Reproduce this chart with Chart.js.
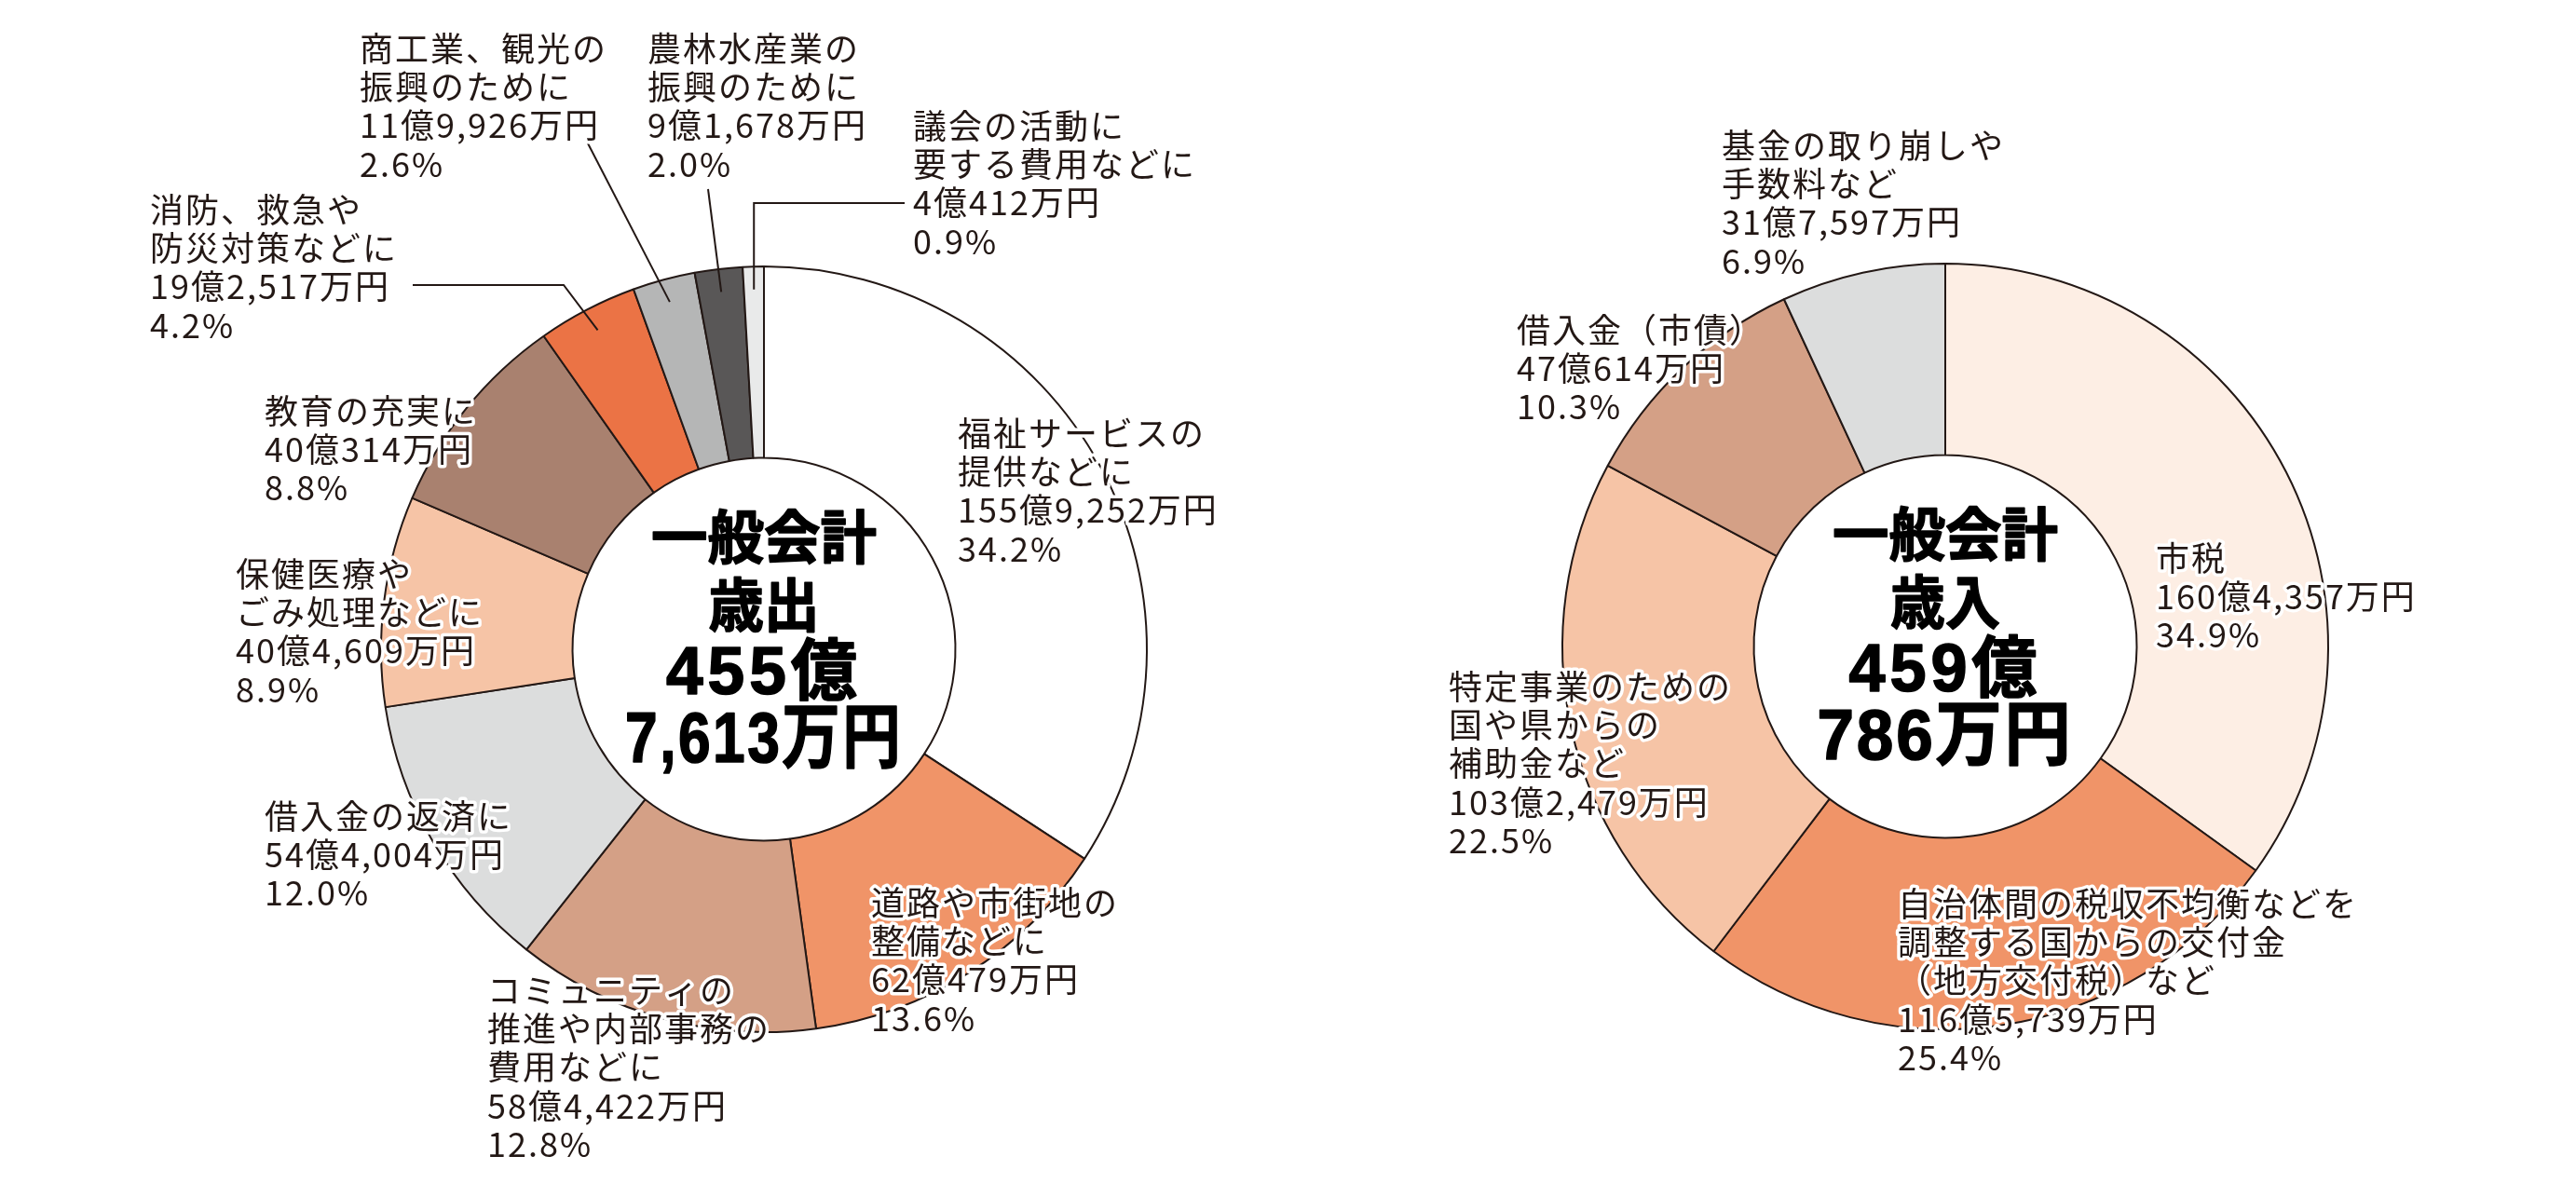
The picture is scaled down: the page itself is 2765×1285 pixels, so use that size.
<!DOCTYPE html>
<html lang="ja">
<head>
<meta charset="utf-8">
<title>一般会計 歳出・歳入</title>
<script src="https://cdn.jsdelivr.net/npm/chart.js@4.4.1/dist/chart.umd.min.js"></script>
<style>
  html, body { margin: 0; padding: 0; background: #ffffff; }
  #wrap { position: relative; width: 2765px; height: 1285px; overflow: hidden; }
  #wrap canvas { position: absolute; left: 0; top: 0; }
</style>
</head>
<body>
<div id="wrap">
  <canvas id="outChart" width="2765" height="1285"></canvas>
  <canvas id="inChart" width="2765" height="1285"></canvas>
</div>
<script>
// ---- 歳出 (expenditure), amounts in 万円, clockwise from 12 o'clock ----
const outNames = [
  ['福祉サービスの', '提供などに'],
  ['道路や市街地の', '整備などに'],
  ['コミュニティの', '推進や内部事務の', '費用などに'],
  ['借入金の返済に'],
  ['保健医療や', 'ごみ処理などに'],
  ['教育の充実に'],
  ['消防、救急や', '防災対策などに'],
  ['商工業、観光の', '振興のために'],
  ['農林水産業の', '振興のために'],
  ['議会の活動に', '要する費用などに']
];
const outValues = [1559252, 620479, 584422, 544004, 404609, 400314, 192517, 119926, 91678, 40412];
const outPct = ['34.2%', '13.6%', '12.8%', '12.0%', '8.9%', '8.8%', '4.2%', '2.6%', '2.0%', '0.9%'];
const outTitle = ['一般会計', '歳出', '455億', '7,613万円'];

// ---- 歳入 (revenue) ----
const inNames = [
  ['市税'],
  ['自治体間の税収不均衡などを', '調整する国からの交付金', '（地方交付税）など'],
  ['特定事業のための', '国や県からの', '補助金など'],
  ['借入金（市債）'],
  ['基金の取り崩しや', '手数料など']
];
const inValues = [1604357, 1165739, 1032479, 470614, 317597];
const inPct = ['34.9%', '25.4%', '22.5%', '10.3%', '6.9%'];
const inTitle = ['一般会計', '歳入', '459億', '786万円'];

const INK = '#231815';
const outColors = ['#ffffff', '#f09468', '#d4a086', '#dcdddd', '#f6c4a6', '#a9816f', '#eb7345', '#b5b6b6', '#595757', '#e9eaea'];
const inColors = ['#fdeee4', '#f09468', '#f6c4a6', '#d4a086', '#dcdddd'];

// 万円 -> "155億9,252万円"
function fmtYen(v) {
  const oku = Math.floor(v / 10000);
  const man = v % 10000;
  return oku + '億' + man.toLocaleString('en-US') + '万円';
}

// label blocks: left edge / first line centre, relative to the ring centre
const outLabelPos = [[208, -232], [115, 272], [-297, 366], [-536, 179], [-567, -81], [-536, -256], [-659, -472], [-434, -645], [-125, -645], [160, -562]];
const inLabelPos = [[226, -95], [-51, 276], [-533, 43], [-460, -340], [-240, -538]];

// leader lines for the thin slices: start point(s) relative to centre, ending inside the slice
const outLeaders = [
  { seg: 6, pts: [[-377, -391], [-215, -391]] },
  { seg: 7, pts: [[-190, -545]] },
  { seg: 8, pts: [[-60, -494]] },
  { seg: 9, pts: [[151, -479]], elbow: true }
];

// centre title rows: y offset, font size, letter spacing
const titleRows = [[-114, 62, 0], [-41, 62, 0], [28, 72, 5], [100, 76, 3]];

const ringText = {
  id: 'ringText',
  afterDatasetsDraw(chart, args, opts) {
    const ctx = chart.ctx;
    const arcs = chart.getDatasetMeta(0).data;
    const cx = arcs[0].x, cy = arcs[0].y;

    ctx.save();
    // leader lines
    ctx.strokeStyle = INK;
    ctx.lineWidth = 2;
    (opts.leaders || []).forEach(l => {
      const a = arcs[l.seg];
      const mid = (a.startAngle + a.endAngle) / 2;
      const r = a.innerRadius + 0.88 * (a.outerRadius - a.innerRadius);
      const ex = cx + Math.cos(mid) * r, ey = cy + Math.sin(mid) * r;
      ctx.beginPath();
      l.pts.forEach((p, i) => i ? ctx.lineTo(cx + p[0], cy + p[1]) : ctx.moveTo(cx + p[0], cy + p[1]));
      if (l.elbow) ctx.lineTo(ex, cy + l.pts[l.pts.length - 1][1]);
      ctx.lineTo(ex, ey);
      ctx.stroke();
    });

    // slice labels with white halo
    ctx.font = '36px "Noto Sans CJK JP", sans-serif';
    ctx.letterSpacing = '2px';
    ctx.textAlign = 'left';
    ctx.textBaseline = 'middle';
    ctx.lineJoin = 'round';
    opts.names.forEach((name, i) => {
      const lines = name.concat([fmtYen(opts.values[i]), opts.pct[i]]);
      const [dx, dy] = opts.pos[i];
      lines.forEach((t, k) => {
        const x = cx + dx, y = cy + dy + k * 41.3;
        ctx.strokeStyle = '#ffffff';
        ctx.lineWidth = 7;
        ctx.strokeText(t, x, y);
        ctx.fillStyle = INK;
        ctx.fillText(t, x, y);
      });
    });

    // centre title (slightly emboldened)
    ctx.textAlign = 'center';
    ctx.fillStyle = '#000000';
    ctx.strokeStyle = '#000000';
    ctx.lineWidth = 1.6;
    opts.title.forEach((t, k) => {
      const [dy, size, sp] = titleRows[k];
      ctx.font = 'bold ' + size + 'px "Liberation Sans", "Noto Sans CJK JP", sans-serif';
      ctx.letterSpacing = sp + 'px';
      ctx.fillText(t, cx, cy + dy, opts.titleWidths[k]);
      ctx.strokeText(t, cx, cy + dy, opts.titleWidths[k]);
    });
    ctx.restore();
  }
};

function ring(id, values, colors, pad, text) {
  return new Chart(document.getElementById(id), {
    type: 'doughnut',
    data: {
      labels: text.names.map(n => n.join('')),
      datasets: [{
        data: values,
        backgroundColor: colors,
        borderColor: INK,
        borderWidth: 2
      }]
    },
    options: {
      responsive: false,
      devicePixelRatio: 1,
      animation: false,
      radius: 411,
      cutout: '50%',
      layout: { padding: pad },
      plugins: {
        legend: { display: false },
        tooltip: { enabled: false },
        ringText: text
      }
    },
    plugins: [ringText]
  });
}

ring('outChart', outValues, outColors, { left: 0, right: 1125, top: 109, bottom: 0 }, {
  names: outNames, values: outValues, pct: outPct, pos: outLabelPos,
  leaders: outLeaders, title: outTitle, titleWidths: [242, 119, 210, 298]
});

ring('inChart', inValues, inColors, { left: 1411, right: 0, top: 103, bottom: 0 }, {
  names: inNames, values: inValues, pct: inPct, pos: inLabelPos,
  leaders: [], title: inTitle, titleWidths: [242, 118, 207, 275]
});
</script>
</body>
</html>
